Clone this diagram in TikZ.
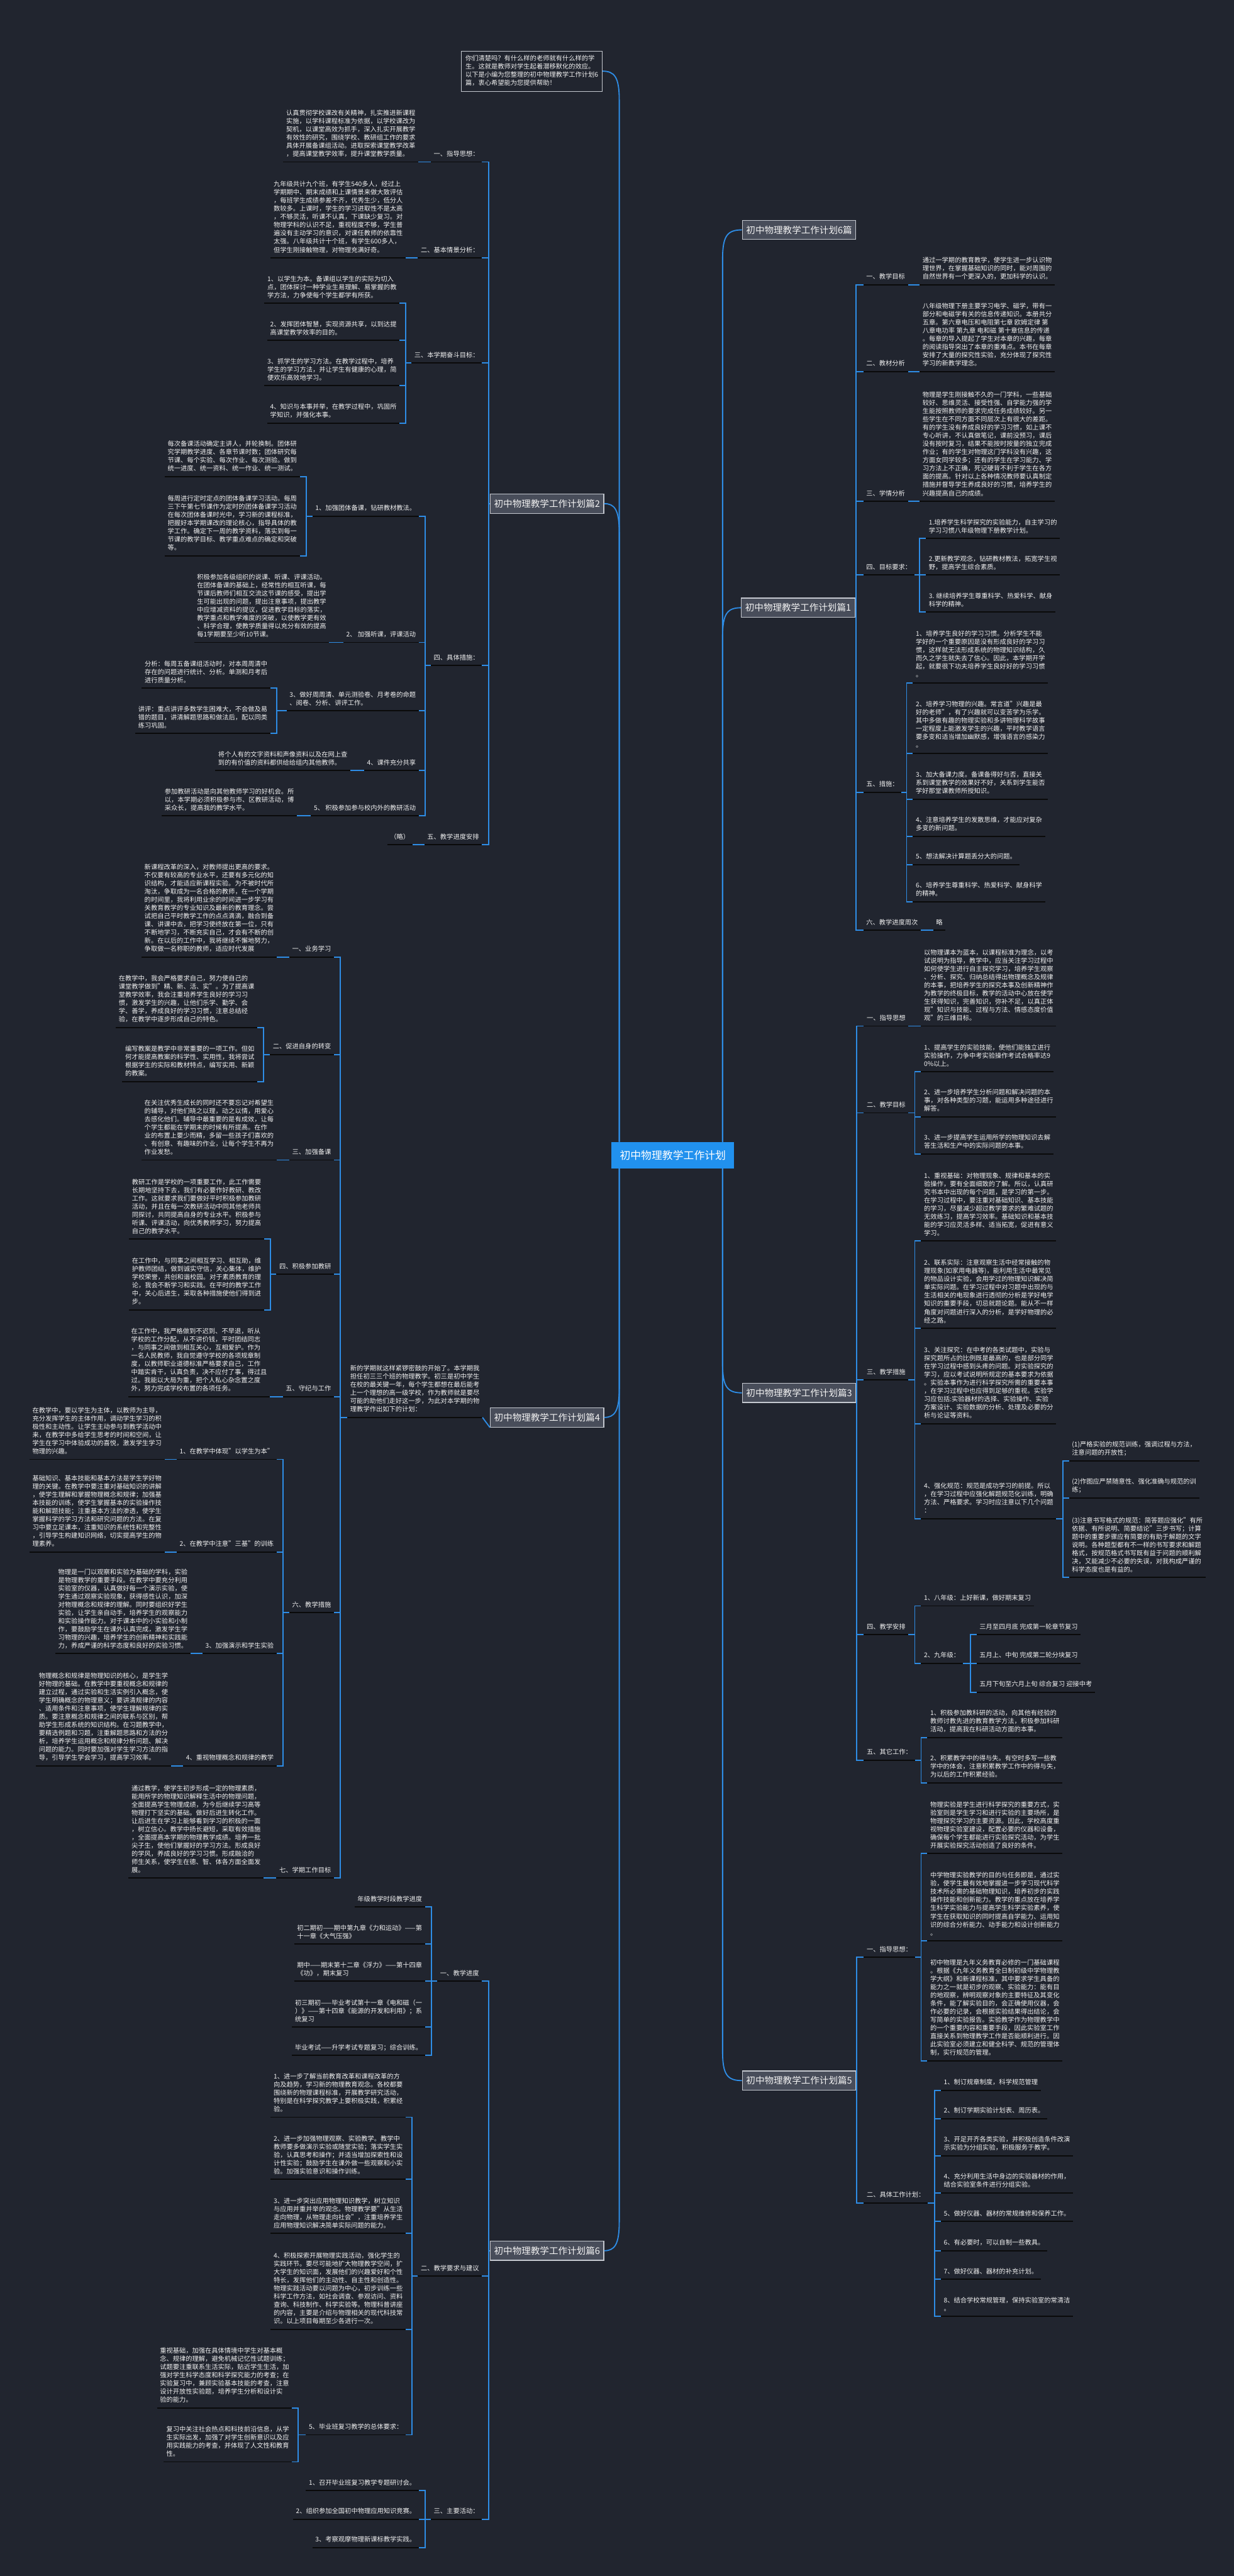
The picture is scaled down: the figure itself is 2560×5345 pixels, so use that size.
\documentclass[tikz,border=0pt]{standalone}
\usepackage{fontspec}
\setmainfont{Noto Sans CJK SC}
\usetikzlibrary{calc}
\definecolor{bg}{HTML}{21252F}
\definecolor{cblue}{HTML}{2E8DE6}
\definecolor{cfill}{HTML}{2191EE}
\definecolor{boxfill}{HTML}{484D5A}
\definecolor{boxdraw}{HTML}{C5C9D0}
\definecolor{txt}{HTML}{F2F2F2}
\definecolor{uline}{HTML}{0A0A0A}
\tikzset{
 conn/.style={draw=cblue, line width=2.4pt},
 ulx/.style={draw=uline, line width=2.4pt},
 topic/.style={align=left, inner xsep=6pt, inner ysep=8.5pt, text depth=3pt, text=txt,
   font=\fontsize{13.4}{17}\selectfont,
   append after command={\pgfextra{\let\tmpnode\tikzlastnode}(\tmpnode.south west) edge[ulx] (\tmpnode.south east)}},
 tr/.style={topic, anchor=south west},
 tl/.style={topic, anchor=south east},
 mbox/.style={draw=boxdraw, fill=boxfill, line width=1.6pt, font=\fontsize{19}{23}\selectfont, text=txt, inner xsep=8pt, minimum height=40pt},
 cbox/.style={fill=cfill, font=\fontsize{22}{26}\selectfont, text=white, inner xsep=17pt, minimum height=55pt},
 ibox/.style={draw=boxdraw, fill=bg, line width=1.4pt, align=left, text=txt, font=\fontsize{13.4}{17}\selectfont, inner xsep=8pt, inner ysep=9pt, text depth=3pt, anchor=south west},
}
\newcommand\chR[2]{\draw[conn] (#1.south east) -- (#2.south west);}
\newcommand\chL[2]{\draw[conn] (#1.south west) -- (#2.south east);}
\newcommand\elR[2]{\draw[conn] (#1.south east) -| ($(#2.south west)+(-13,0)$) -- (#2.south west);}
\newcommand\elL[2]{\draw[conn] (#1.south west) -| ($(#2.south east)+(13,0)$) -- (#2.south east);}
\newcommand\bxR[2]{\draw[conn] (#1.east) -| ($(#2.south west)+(-15,0)$) -- (#2.south west);}
\newcommand\bxL[2]{\draw[conn] (#1.west) -| ($(#2.south east)+(14,0)$) -- (#2.south east);}
\begin{document}
\begin{tikzpicture}[x=1pt,y=-1pt]
\fill[bg] (0,0) rectangle (2560,5345);
\useasboundingbox (0,0) rectangle (2560,5345);

% ---------- center & main boxes ----------
\node[cbox] (C) at (1396,2397) {初中物理教学工作计划};
\node[ibox] (intro) at (957,190) {你们清楚吗？有什么样的老师就有什么样的学\\生。这就是教师对学生起着潜移默化的效应。\\以下是小编为您整理的初中物理教学工作计划6\\篇，衷心希望能为您提供帮助！};
\node[mbox] (B0) at (1658,477) {初中物理教学工作计划6篇};
\node[mbox] (B1) at (1656,1261) {初中物理教学工作计划篇1};
\node[mbox] (B3) at (1658,2890) {初中物理教学工作计划篇3};
\node[mbox] (B5) at (1658,4317) {初中物理教学工作计划篇5};
\node[mbox] (B2) at (1135,1045) {初中物理教学工作计划篇2};
\node[mbox] (B4) at (1135,2941) {初中物理教学工作计划篇4};
\node[mbox] (B6) at (1135,4670) {初中物理教学工作计划篇6};

\draw[conn] ($(C.north east)+(-24,0)$) -- ($(C.north east |- B0.west)+(-24,60)$) .. controls ($(C.north east |- B0.west)+(-24,12)$) and ($(C.north east |- B0.west)+(-14,0)$) .. (B0.west);
\draw[conn] ($(C.north east)+(-24,0)$) -- ($(C.north east |- B1.west)+(-24,60)$) .. controls ($(C.north east |- B1.west)+(-24,12)$) and ($(C.north east |- B1.west)+(-14,0)$) .. (B1.west);
\draw[conn] ($(C.south east)+(-24,0)$) -- ($(C.south east |- B3.west)+(-24,-60)$) .. controls ($(C.south east |- B3.west)+(-24,-12)$) and ($(C.south east |- B3.west)+(-14,0)$) .. (B3.west);
\draw[conn] ($(C.south east)+(-24,0)$) -- ($(C.south east |- B5.west)+(-24,-60)$) .. controls ($(C.south east |- B5.west)+(-24,-12)$) and ($(C.south east |- B5.west)+(-14,0)$) .. (B5.west);
\draw[conn] ($(C.north west)+(16,0)$) -- ($(C.north west |- intro.east)+(16,60)$) .. controls ($(C.north west |- intro.east)+(16,12)$) and ($(C.north west |- intro.east)+(6,0)$) .. (intro.east);
\draw[conn] ($(C.north west)+(16,0)$) -- ($(C.north west |- B2.east)+(16,60)$) .. controls ($(C.north west |- B2.east)+(16,12)$) and ($(C.north west |- B2.east)+(6,0)$) .. (B2.east);
\draw[conn] ($(C.south west)+(16,0)$) -- ($(C.south west |- B4.east)+(16,-60)$) .. controls ($(C.south west |- B4.east)+(16,-12)$) and ($(C.south west |- B4.east)+(6,0)$) .. (B4.east);
\draw[conn] ($(C.south west)+(16,0)$) -- ($(C.south west |- B6.east)+(16,-60)$) .. controls ($(C.south west |- B6.east)+(16,-12)$) and ($(C.south west |- B6.east)+(6,0)$) .. (B6.east);

% ================= 篇1 =================
\node[tr] (r1a) at (1791,591) {一、教学目标};
\node[tr] (r1a1) at (1908,591) {通过一学期的教育教学，使学生进一步认识物\\理世界，在掌握基础知识的同时，能对周围的\\自然世界有一个更深入的，更加科学的认识。};
\node[tr] (r1b) at (1791,771) {二、教材分析};
\node[tr] (r1b1) at (1908,771) {八年级物理下册主要学习电学、磁学，带有一\\部分和电磁学有关的信息传递知识。本册共分\\五章。第六章电压和电阻第七章 欧姆定律 第\\八章电功率 第九章 电和磁 第十章信息的传递\\。每章的导入提起了学生对本章的兴趣，每章\\的阅读指导突出了本章的重难点。本书在每章\\安排了大量的探究性实验，充分体现了探究性\\学习的新教学理念。};
\node[tr] (r1c) at (1791,1040) {三、学情分析};
\node[tr] (r1c1) at (1908,1040) {物理是学生刚接触不久的一门学科，一些基础\\较好、思维灵活、接受性强、自学能力强的学\\生能按照教师的要求完成任务成绩较好。另一\\些学生在不同方面不同层次上有很大的差距。\\有的学生没有养成良好的学习习惯，如上课不\\专心听讲，不认真做笔记，课前没预习，课后\\没有按时复习，结果不能按时按量的独立完成\\作业；有的学生对物理这门学科没有兴趣，这\\方面女同学较多；还有的学生在学习能力、学\\习方法上不正确，死记硬背不利于学生在各方\\面的提高。针对以上各种情况教师要认真制定\\措施并督导学生养成良好的习惯，培养学生的\\兴趣提高自己的成绩。};
\node[tr] (r1d) at (1791,1193) {四、目标要求：};
\node[tr] (r1d1) at (1921,1117) {1.培养学生科学探究的实验能力，自主学习的\\学习习惯八年级物理下册教学计划。};
\node[tr] (r1d2) at (1921,1193) {2.更新教学观念，钻研教材教法，拓宽学生视\\野，提高学生综合素质。};
\node[tr] (r1d3) at (1921,1270) {3. 继续培养学生尊重科学、热爱科学、献身\\科学的精神。};
\node[tr] (r1e) at (1791,1644) {五、措施：};
\node[tr] (r1e1) at (1894,1417) {1、培养学生良好的学习习惯。分析学生不能\\学好的一个重要原因是没有形成良好的学习习\\惯，这样就无法形成系统的物理知识结构，久\\而久之学生就失去了信心。因此，本学期开学\\起，就要很下功夫培养学生良好好的学习习惯\\。};
\node[tr] (r1e2) at (1894,1563) {2、培养学习物理的兴趣。常言道"兴趣是最\\好的老师"，有了兴趣就可以变苦学为乐学。\\其中多做有趣的物理实验和多讲物理科学故事\\一定程度上能激发学生的兴趣，平时教学语言\\要多变和适当增加幽默感，增强语言的感染力\\。};
\node[tr] (r1e3) at (1894,1658) {3、加大备课力度。备课备得好与否，直接关\\系到课堂教学的效果好不好，关系到学生能否\\学好那堂课教师所授知识。};
\node[tr] (r1e4) at (1894,1735) {4、注意培养学生的发散思维，才能应对复杂\\多变的新问题。};
\node[tr] (r1e5) at (1894,1794) {5、想法解决计算题丢分大的问题。};
\node[tr] (r1e6) at (1894,1871) {6、培养学生尊重科学、热爱科学、献身科学\\的精神。};
\node[tr] (r1f) at (1791,1930) {六、教学进度周次};
\node[tr] (r1f1) at (1936,1930) {略};
\foreach \n in {r1a,r1b,r1c,r1d,r1e,r1f} {\bxR{B1}{\n}}
\chR{r1a}{r1a1} \chR{r1b}{r1b1} \chR{r1c}{r1c1} \chR{r1f}{r1f1}
\foreach \n in {r1d1,r1d2,r1d3} {\elR{r1d}{\n}}
\foreach \n in {r1e1,r1e2,r1e3,r1e4,r1e5,r1e6} {\elR{r1e}{\n}}

% ================= 篇3 =================
\node[tr] (r3a) at (1792,2129) {一、指导思想};
\node[tr] (r3a1) at (1911,2129) {以物理课本为蓝本，以课程标准为理念，以考\\试说明为指导，教学中，应当关注学习过程中\\如何使学生进行自主探究学习，培养学生观察\\、分析、探究、归纳总结得出物理概念及规律\\的本事，把培养学生的探究本事及创新精神作\\为教学的终极目标，教学的活动中心放在使学\\生获得知识，完善知识，弥补不足，以真正体\\现"知识与技能、过程与方法、情感态度价值\\观"的三维目标。};
\node[tr] (r3b) at (1792,2309) {二、教学目标};
\node[tr] (r3b1) at (1911,2224) {1、提高学生的实验技能，使他们能独立进行\\实验操作，力争中考实验操作考试合格率达9\\0\%以上。};
\node[tr] (r3b2) at (1911,2317) {2、进一步培养学生分析问题和解决问题的本\\事，对各种类型的习题，能运用多种途径进行\\解答。};
\node[tr] (r3b3) at (1911,2394) {3、进一步提高学生运用所学的物理知识去解\\答生活和生产中的实际问题的本事。};
\node[tr] (r3c) at (1792,2863) {三、教学措施};
\node[tr] (r3c1) at (1911,2575) {1、重视基础：对物理现象、规律和基本的实\\验操作，要有全面细致的了解。所以，认真研\\究书本中出现的每个问题，是学习的第一步。\\在学习过程中，要注重对基础知识、基本技能\\的学习，尽量减少超过教学要求的繁难试题的\\无效练习，提高学习效率。基础知识和基本技\\能的学习应灵活多样、适当拓宽，促进有意义\\学习。};
\node[tr] (r3c2) at (1911,2756) {2、联系实际：注意观察生活中经常接触的物\\理现象(如家用电器等)，能利用生活中最常见\\的物品设计实验，会用学过的物理知识解决简\\单实际问题。在学习过程中对习题中出现的与\\生活相关的电现象进行透彻的分析是学好电学\\知识的重要手段，切忌就题论题。能从不一样\\角度对问题进行深入的分析，是学好物理的必\\经之路。};
\node[tr] (r3c3) at (1911,2954) {3、关注探究：在中考的各类试题中，实验与\\探究题所占的比例既是最高的，也是部分同学\\在学习过程中感到头疼的问题。对实验探究的\\学习，应以考试说明所规定的基本要求为依据\\。实验本事作为进行科学探究所需的重要本事\\，在学习过程中也应得到足够的重视。实验学\\习应包括:实验器材的选择、实验操作、实验\\方案设计、实验数据的分析、处理及必要的分\\析与论证等资料。};
\node[tr] (r3c4) at (1911,3151) {4、强化规范：规范是成功学习的前提。所以\\，在学习过程中应强化解题规范化训练，明确\\方法、严格要求。学习时应注意以下几个问题\\：};
\node[tr] (r3c41) at (2218,3031) {(1)严格实验的规范训练，强调过程与方法，\\注意问题的开放性；};
\node[tr] (r3c42) at (2218,3108) {(2)作图应严禁随意性、强化准确与规范的训\\练；};
\node[tr] (r3c43) at (2218,3273) {(3)注意书写格式的规范：简答题应强化"有所\\依据、有所说明、简要结论"三步书写；计算\\题中的重要步骤应有简要的有助于解题的文字\\说明。各种题型都有不一样的书写要求和解题\\格式，按规范格式书写既有益于问题的顺利解\\决，又能减少不必要的失误，对我构成严谨的\\科学态度也是有益的。};
\node[tr] (r3d) at (1792,3392) {四、教学安排};
\node[tr] (r3d1) at (1911,3332) {1、八年级：上好新课，做好期末复习};
\node[tr] (r3d2) at (1911,3451) {2、九年级：};
\node[tr] (r3d21) at (2026,3392) {三月至四月底 完成第一轮章节复习};
\node[tr] (r3d22) at (2026,3451) {五月上、中旬 完成第二轮分块复习};
\node[tr] (r3d23) at (2026,3511) {五月下旬至六月上旬 综合复习 迎接中考};
\node[tr] (r3e) at (1792,3652) {五、其它工作：};
\node[tr] (r3e1) at (1924,3605) {1、积极参加教科研的活动，向其他有经验的\\教师讨教先进的教育教学方法，积极参加科研\\活动，提高我在科研活动方面的本事。};
\node[tr] (r3e2) at (1924,3699) {2、积累教学中的得与失。有空时多写一些教\\学中的体会，注意积累教学工作中的得与失，\\为以后的工作积累经验。};
\foreach \n in {r3a,r3b,r3c,r3d,r3e} {\bxR{B3}{\n}}
\chR{r3a}{r3a1}
\foreach \n in {r3b1,r3b2,r3b3} {\elR{r3b}{\n}}
\foreach \n in {r3c1,r3c2,r3c3,r3c4} {\elR{r3c}{\n}}
\foreach \n in {r3c41,r3c42,r3c43} {\elR{r3c4}{\n}}
\foreach \n in {r3d1,r3d2} {\elR{r3d}{\n}}
\foreach \n in {r3d21,r3d22,r3d23} {\elR{r3d2}{\n}}
\foreach \n in {r3e1,r3e2} {\elR{r3e}{\n}}

% ================= 篇5 =================
\node[tr] (r5a) at (1792,4061) {一、指导思想：};
\node[tr] (r5a1) at (1924,3846) {物理实验是学生进行科学探究的重要方式，实\\验室则是学生学习和进行实验的主要场所，是\\物理探究学习的主要资源。因此，学校高度重\\视物理实验室建设，配置必要的仪器和设备，\\确保每个学生都能进行实验探究活动，为学生\\开展实验探究活动创造了良好的条件。};
\node[tr] (r5a2) at (1924,4027) {中学物理实验教学的目的与任务即是，通过实\\验，使学生最有效地掌握进一步学习现代科学\\技术所必需的基础物理知识，培养初步的实践\\操作技能和创新能力。教学的重点放在培养学\\生科学实验能力与提高学生科学实验素养，使\\学生在获取知识的同时提高自学能力、运用知\\识的综合分析能力、动手能力和设计创新能力\\。};
\node[tr] (r5a3) at (1924,4276) {初中物理是九年义务教育必修的一门基础课程\\。根据《九年义务教育全日制初级中学物理教\\学大纲》和新课程标准，其中要求学生具备的\\能力之一就是初步的观察、实验能力：能有目\\的地观察，辨明观察对象的主要特征及其变化\\条件，能了解实验目的，会正确使用仪器，会\\作必要的记录，会根据实验结果得出结论，会\\写简单的实验报告。实验教学作为物理教学中\\的一个重要内容和重要手段，因此实验室工作\\直接关系到物理教学工作是否能顺利进行。因\\此实验室必须建立和健全科学、规范的管理体\\制，实行规范的管理。};
\node[tr] (r5b) at (1792,4571) {二、具体工作计划：};
\node[tr] (r5b1) at (1952,4337) {1、制订规章制度，科学规范管理};
\node[tr] (r5b2) at (1952,4396) {2、制订学期实验计划表、周历表。};
\node[tr] (r5b3) at (1952,4473) {3、开足开齐各类实验，并积极创造条件改演\\示实验为分组实验，积极服务于教学。};
\node[tr] (r5b4) at (1952,4550) {4、充分利用生活中身边的实验器材的作用，\\结合实验室条件进行分组实验。};
\node[tr] (r5b5) at (1952,4609) {5、做好仪器、器材的常规维修和保养工作。};
\node[tr] (r5b6) at (1952,4670) {6、有必要时，可以自制一些教具。};
\node[tr] (r5b7) at (1952,4729) {7、做好仪器、器材的补充计划。};
\node[tr] (r5b8) at (1952,4806) {8、结合学校常规管理，保持实验室的常清洁\\。};
\foreach \n in {r5a,r5b} {\bxR{B5}{\n}}
\foreach \n in {r5a1,r5a2,r5a3} {\elR{r5a}{\n}}
\foreach \n in {r5b1,r5b2,r5b3,r5b4,r5b5,r5b6,r5b7,r5b8} {\elR{r5b}{\n}}

% ================= 篇2 =================
\node[tl] (l2a) at (1000,336) {一、指导思想：};
\node[tl] (l2a1) at (868,336) {认真贯彻学校课改有关精神，扎实推进新课程\\实施，以学科课程标准为依据，以学校课改为\\契机，以课堂高效为抓手，深入扎实开展教学\\有效性的研究，围绕学校、教研组工作的要求\\具体开展备课组活动。进取探索课堂教学改革\\，提高课堂教学效率，提升课堂教学质量。};
\node[tl] (l2b) at (1000,535) {二、基本情景分析：};
\node[tl] (l2b1) at (842,535) {九年级共计九个班，有学生540多人，经过上\\学期期中、期末成绩和上课情景来做大致评估\\，每班学生成绩参差不齐，优秀生少，低分人\\数较多。上课时，学生的学习进取性不是太高\\，不够灵活，听课不认真，下课缺少复习。对\\物理学科的认识不足，重视程度不够，学生普\\遍没有主动学习的意识，对课任教师的依靠性\\太强。八年级共计十个班，有学生600多人，\\但学生刚接触物理，对物理充满好奇。};
\node[tl] (l2c) at (1000,753) {三、本学期奋斗目标：};
\node[tl] (l2c1) at (829,629) {1、以学生为本。备课组以学生的实际为切入\\点，团体探讨一种学业生易理解、易掌握的教\\学方法，力争使每个学生都学有所获。};
\node[tl] (l2c2) at (829,706) {2、发挥团体智慧，实现资源共享，以到达提\\高课堂教学效率的目的。};
\node[tl] (l2c3) at (829,800) {3、抓学生的学习方法。在教学过程中，培养\\学生的学习方法，并让学生有健康的心理，简\\便欢乐高效地学习。};
\node[tl] (l2c4) at (829,878) {4、知识与本事并举，在教学过程中，巩固所\\学知识，并强化本事。};
\node[tl] (l2d) at (1000,1381) {四、具体措施：};
\node[tl] (l2d1) at (869,1071) {1、加强团体备课，钻研教材教法。};
\node[tl] (l2d1a) at (622,989) {每次备课活动确定主讲人，并轮换制。团体研\\究学期教学进度、各章节课时数；团体研究每\\节课、每个实验、每次作业、每次测验。做到\\统一进度、统一资料、统一作业、统一测试。};
\node[tl] (l2d1b) at (622,1153) {每周进行定时定点的团体备课学习活动。每周\\三下午第七节课作为定时的团体备课学习活动\\在每次团体备课时光中，学习新的课程标准，\\把握好本学期课改的理论核心，指导具体的教\\学工作。确定下一周的教学资料，落实到每一\\节课的教学目标、教学重点难点的确定和突破\\等。};
\node[tl] (l2d2) at (869,1333) {2、 加强听课，评课活动};
\node[tl] (l2d21) at (683,1333) {积极参加各级组织的说课、听课、评课活动。\\在团体备课的基础上，经常性的相互听课，每\\节课后教师们相互交流这节课的感受，提出学\\生可能出现的问题，提出注意事项，提出教学\\中应增减资料的提议，促进教学目标的落实，\\教学重点和教学难度的突破，以使教学更有效\\、科学合理，使教学质量得以充分有效的提高\\每1学期要至少听10节课。};
\node[tl] (l2d3) at (869,1475) {3、做好周周清、单元测验卷、月考卷的命题\\、阅卷、分析、讲评工作。};
\node[tl] (l2d3a) at (561,1428) {分析：每周五备课组活动时，对本周周清中\\存在的问题进行统计、分析。单测和月考后\\进行质量分析。};
\node[tl] (l2d3b) at (561,1522) {讲评：重点讲评多数学生困难大，不会做及易\\错的题目，讲清解题思路和做法后，配以同类\\练习巩固。};
\node[tl] (l2d4) at (869,1599) {4、课件充分共享};
\node[tl] (l2d41) at (727,1599) {将个人有的文字资料和声像资料以及在网上查\\到的有价值的资料都供给给组内其他教师。};
\node[tl] (l2d5) at (869,1693) {5、 积极参加参与校内外的教研活动};
\node[tl] (l2d51) at (616,1693) {参加教研活动是向其他教师学习的好机会。所\\以，本学期必须积极参与市、区教研活动，博\\采众长，提高我的教学水平。};
\node[tl] (l2e) at (1000,1753) {五、教学进度安排};
\node[tl] (l2e1) at (856,1753) {（略）};
\foreach \n in {l2a,l2b,l2c,l2d,l2e} {\bxL{B2}{\n}}
\chL{l2a}{l2a1} \chL{l2b}{l2b1} \chL{l2e}{l2e1}
\foreach \n in {l2c1,l2c2,l2c3,l2c4} {\elL{l2c}{\n}}
\foreach \n in {l2d1,l2d2,l2d3,l2d4,l2d5} {\elL{l2d}{\n}}
\foreach \n in {l2d1a,l2d1b} {\elL{l2d1}{\n}}
\foreach \n in {l2d3a,l2d3b} {\elL{l2d3}{\n}}
\chL{l2d2}{l2d21} \chL{l2d4}{l2d41} \chL{l2d5}{l2d51}

% ================= 篇4 =================
\node[tl] (l4) at (1001,2941) {新的学期就这样紧锣密鼓的开始了。本学期我\\担任初三三个班的物理教学。初三是初中学生\\在校的最关键一年，每个学生都想在最后能考\\上一个理想的高一级学校，作为教师就是要尽\\可能的助他们走好这一步，为此对本学期的物\\理教学作出如下的计划：};
\chL{B4}{l4}
\node[tl] (l4a) at (693,1986) {一、业务学习};
\node[tl] (l4a1) at (574,1986) {新课程改革的深入，对教师提出更高的要求。\\不仅要有较高的专业水平，还要有多元化的知\\识结构，才能适应新课程实验。为不被时代所\\淘汰，争取成为一名合格的教师，在一个学期\\的时间里，我将利用业余的时间进一步学习有\\关教育教学的专业知识及最新的教育理念。尝\\试把自己平时教学工作的点点滴滴，融合到备\\课、讲课中去，把学习使终放在第一位，只有\\不断地学习，不断充实自己，才会有不断的创\\新。在以后的工作中，我将继续不懈地努力，\\争取做一名称职的教师，适应时代发展};
\node[tl] (l4b) at (693,2188) {二、促进自身的转变};
\node[tl] (l4b1) at (534,2132) {在教学中，我会严格要求自己，努力使自己的\\课堂教学做到"精、新、活、实"。为了提高课\\堂教学效率，我会注重培养学生良好的学习习\\惯，激发学生的兴趣，让他们乐学、勤学、会\\学、善学，养成良好的学习习惯，注意总结经\\验，在教学中逐步形成自己的特色。};
\node[tl] (l4b2) at (534,2244) {编写教案是教学中非常重要的一项工作。但如\\何才能提高教案的科学性、实用性，我将尝试\\根据学生的实际和教材特点，编写实用、新颖\\的教案。};
\node[tl] (l4c) at (693,2407) {三、加强备课};
\node[tl] (l4c1) at (574,2407) {在关注优秀生成长的同时还不要忘记对希望生\\的辅导，对他们晓之以理，动之以情，用爱心\\去感化他们。辅导中最重要的是有成效，让每\\个学生都能在学期末的时候有所提高。在作\\业的布置上要少而精，多留一些孩子们喜欢的\\、有创意、有趣味的作业，让每个学生不再为\\作业发愁。};
\node[tl] (l4d) at (693,2644) {四、积极参加教研};
\node[tl] (l4d1) at (548,2571) {教研工作是学校的一项重要工作，此工作需要\\长期地坚持下去，我们有必要作好教研、教改\\工作。这就要求我们要做好平时积极参加教研\\活动，并且在每一次教研活动中同其他老师共\\同探讨，共同提高自身的专业水平。积极参与\\听课、评课活动，向优秀教师学习，努力提高\\自己的教学水平。};
\node[tl] (l4d2) at (548,2718) {在工作中，与同事之间相互学习、相互助，维\\护教师团结，做到诚实守信，关心集体，维护\\学校荣誉，共创和谐校园。对于素质教育的理\\论，我会不断学习和实践。在平时的教学工作\\中，关心后进生，采取各种措施使他们得到进\\步。};
\node[tl] (l4e) at (693,2898) {五、守纪与工作};
\node[tl] (l4e1) at (560,2898) {在工作中，我严格做到不迟到、不早退，听从\\学校的工作分配，从不讲价钱，平时团结同志\\，与同事之间做到相互关心，互相爱护。作为\\一名人民教师，我自觉遵守学校的各项规章制\\度，以教师职业道德标准严格要求自己，工作\\中踏实肯干，认真负责，决不应付了事，得过且\\过。我能以大局为重，把个人私心杂念置之度\\外，努力完成学校布置的各项任务。};
\node[tl] (l4f) at (693,3346) {六、教学措施};
\node[tl] (l4f1) at (574,3028) {1、在教学中体现"以学生为本"};
\node[tl] (l4f2) at (574,3220) {2、在教学中注意"三基"的训练};
\node[tl] (l4f3) at (574,3431) {3、加强演示和学生实验};
\node[tl] (l4f4) at (574,3664) {4、重视物理概念和规律的教学};
\node[tl] (l4f1a) at ($(l4f1.south west)+(-25,0)$) {在教学中，要以学生为主体，以教师为主导，\\充分发挥学生的主体作用，调动学生学习的积\\极性和主动性。让学生主动参与到教学活动中\\来，在教学中多给学生思考的时间和空间，让\\学生在学习中体验成功的喜悦，激发学生学习\\物理的兴趣。};
\node[tl] (l4f2a) at ($(l4f2.south west)+(-25,0)$) {基础知识、基本技能和基本方法是学生学好物\\理的关键。在教学中要注重对基础知识的讲解\\，使学生理解和掌握物理概念和规律；加强基\\本技能的训练，使学生掌握基本的实验操作技\\能和解题技能；注重基本方法的渗透，使学生\\掌握科学的学习方法和研究问题的方法。在复\\习中要立足课本，注重知识的系统性和完整性\\，引导学生构建知识网络，切实提高学生的物\\理素养。};
\node[tl] (l4f3a) at ($(l4f3.south west)+(-25,0)$) {物理是一门以观察和实验为基础的学科，实验\\是物理教学的重要手段。在教学中要充分利用\\实验室的仪器，认真做好每一个演示实验，使\\学生通过观察实验现象，获得感性认识，加深\\对物理概念和规律的理解。同时要组织好学生\\实验，让学生亲自动手，培养学生的观察能力\\和实验操作能力。对于课本中的小实验和小制\\作，要鼓励学生在课外认真完成，激发学生学\\习物理的兴趣，培养学生的创新精神和实践能\\力，养成严谨的科学态度和良好的实验习惯。};
\node[tl] (l4f4a) at ($(l4f4.south west)+(-25,0)$) {物理概念和规律是物理知识的核心，是学生学\\好物理的基础。在教学中要重视概念和规律的\\建立过程，通过实验和生活实例引入概念，使\\学生明确概念的物理意义；要讲清规律的内容\\、适用条件和注意事项，使学生理解规律的实\\质。要注意概念和规律之间的联系与区别，帮\\助学生形成系统的知识结构。在习题教学中，\\要精选例题和习题，注重解题思路和方法的分\\析，培养学生运用概念和规律分析问题、解决\\问题的能力。同时要加强对学生学习方法的指\\导，引导学生学会学习，提高学习效率。};
\node[tl] (l4g) at (693,3897) {七、学期工作目标};
\node[tl] (l4g1) at (547,3897) {通过教学，使学生初步形成一定的物理素质，\\能用所学的物理知识解释生活中的物理问题，\\全面提高学生物理成绩，为今后继续学习高等\\物理打下坚实的基础。做好后进生转化工作。\\让后进生在学习上能够看到学习的积极的一面\\，树立信心。教学中扬长避短，采取有效措施\\，全面提高本学期的物理教学成绩。培养一批\\尖子生，使他们掌握好的学习方法。形成良好\\的学风，养成良好的学习习惯。形成融洽的\\师生关系，使学生在德、智、体各方面全面发\\展。};
\foreach \n in {l4a,l4b,l4c,l4d,l4e,l4f,l4g} {\elL{l4}{\n}}
\chL{l4a}{l4a1} \chL{l4c}{l4c1} \chL{l4e}{l4e1} \chL{l4g}{l4g1}
\foreach \n in {l4b1,l4b2} {\elL{l4b}{\n}}
\foreach \n in {l4d1,l4d2} {\elL{l4d}{\n}}
\foreach \n in {l4f1,l4f2,l4f3,l4f4} {\elL{l4f}{\n}}
\chL{l4f1}{l4f1a} \chL{l4f2}{l4f2a} \chL{l4f3}{l4f3a} \chL{l4f4}{l4f4a}

% ================= 篇6 =================
\node[tl] (l6a) at (1000,4111) {一、教学进度};
\node[tl] (l6a1) at (882,3957) {年级教学时段教学进度};
\node[tl] (l6a2) at (882,4034) {初二期初——期中第九章《力和运动》——第\\十一章《大气压强》};
\node[tl] (l6a3) at (882,4111) {期中——期末第十二章《浮力》——第十四章\\《功》，期末复习};
\node[tl] (l6a4) at (882,4206) {初三期初——毕业考试第十一章《电和磁（一\\）》——第十四章《能源的开发和利用》；系\\统复习};
\node[tl] (l6a5) at (882,4265) {毕业考试——升学考试专题复习；综合训练。};
\node[tl] (l6b) at (1000,4723) {二、教学要求与建议};
\node[tl] (l6b1) at (842,4393) {1、进一步了解当前教育改革和课程改革的方\\向及趋势，学习新的物理教育观念。各校都要\\围绕新的物理课程标准，开展教学研究活动，\\特别是在科学探究教学上要积极实践，积累经\\验。};
\node[tl] (l6b2) at (842,4522) {2、进一步加强物理观察、实验教学。教学中\\教师要多做演示实验或随堂实验；落实学生实\\验，认真思考和操作；并适当增加探索性和设\\计性实验；鼓励学生在课外做一些观察和小实\\验。加强实验意识和操作训练。};
\node[tl] (l6b3) at (842,4634) {3、进一步突出应用物理知识教学，树立知识\\与应用并重并举的观念。物理教学要"从生活\\走向物理，从物理走向社会"，注重培养学生\\应用物理知识解决简单实际问题的能力。};
\node[tl] (l6b4) at (842,4833) {4、积极探索开展物理实践活动，强化学生的\\实践环节。要尽可能地扩大物理教学空间，扩\\大学生的知识面，发展他们的兴趣爱好和个性\\特长，发挥他们的主动性、自主性和创造性。\\物理实践活动要以问题为中心，初步训练一些\\科学工作方法，如社会调查、参观访问、资料\\查询、科技制作、科学实验等。物理科普讲座\\的内容，主要是介绍与物理相关的现代科技常\\识。以上项目每期至少各进行一次。};
\node[tl] (l6b5) at (842,5052) {5、毕业班复习教学的总体要求：};
\node[tl] (l6b51) at (606,4996) {重视基础，加强在具体情境中学生对基本概\\念、规律的理解，避免机械记忆性试题训练；\\试题要注重联系生活实际，贴近学生生活，加\\强对学生科学态度和科学探究能力的考查；在\\实验复习中，兼顾实验基本技能的考查，注意\\设计开放性实验题，培养学生分析和设计实\\验的能力。};
\node[tl] (l6b52) at (606,5108) {复习中关注社会热点和科技前沿信息，从学\\生实际出发，加强了对学生创新意识以及应\\用实践能力的考查，并体现了人文性和教育\\性。};
\node[tl] (l6c) at (1000,5227) {三、主要活动：};
\node[tl] (l6c1) at (869,5168) {1、召开毕业班复习教学专题研讨会。};
\node[tl] (l6c2) at (869,5227) {2、组织参加全国初中物理应用知识竞赛。};
\node[tl] (l6c3) at (869,5286) {3、考察观摩物理新课标教学实践。};
\foreach \n in {l6a,l6b,l6c} {\bxL{B6}{\n}}
\foreach \n in {l6a1,l6a2,l6a3,l6a4,l6a5} {\elL{l6a}{\n}}
\foreach \n in {l6b1,l6b2,l6b3,l6b4,l6b5} {\elL{l6b}{\n}}
\foreach \n in {l6b51,l6b52} {\elL{l6b5}{\n}}
\foreach \n in {l6c1,l6c2,l6c3} {\elL{l6c}{\n}}
\end{tikzpicture}
\end{document}
